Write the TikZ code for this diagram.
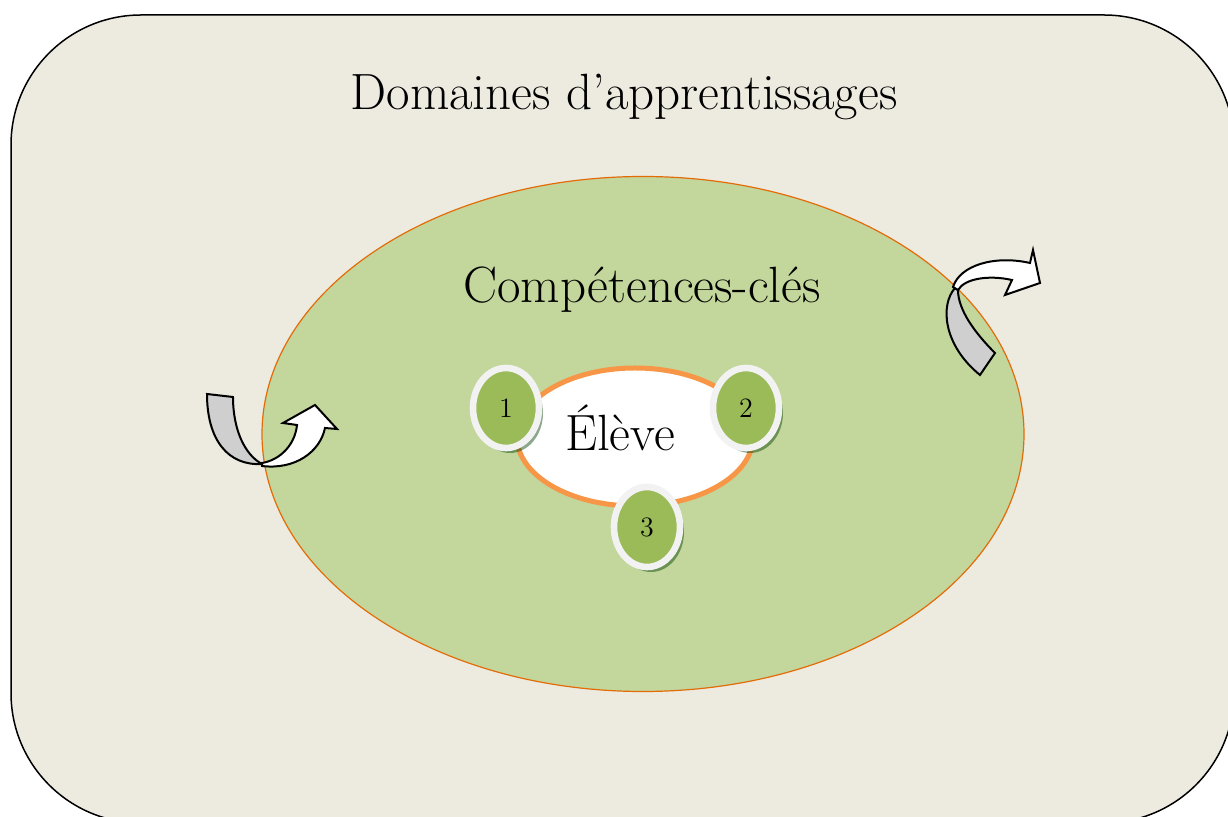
\documentclass[tikz,border=0pt]{standalone}
\usepackage{tikz}
\usetikzlibrary{shapes.geometric,shadows}
\definecolor{fondbeige}{HTML}{EDEBE0}
\definecolor{vertclair}{HTML}{C3D69B}
\definecolor{vertfonce}{HTML}{9BBB59}
\definecolor{orangefonce}{HTML}{E36C09}
\definecolor{orangeclair}{HTML}{F79646}
\definecolor{ringgris}{HTML}{F2F2F2}
\definecolor{flechegris}{HTML}{CFCFCF}

\begin{document}
\begin{tikzpicture}[x=0.5pt,y=-0.5pt,
	grandtexte/.style={font=\fontsize{25.5}{30}\selectfont},
	pastille/.style={ellipse, draw=ringgris, line width=3.3pt, fill=vertfonce,
		minimum width=33pt, minimum height=40pt, inner sep=0pt,
		drop shadow={shadow xshift=2pt, shadow yshift=-2.5pt, fill=green!25!black, opacity=.45},
		font=\fontsize{14}{16}\selectfont},
	fleche/.style={draw=black, line width=1pt, line join=miter}]
				\useasboundingbox (0,0) rectangle (1228,817);
				
				\begin{scope}
				\clip (0,0) rectangle (1228,817);
				\draw[fill=fondbeige, line width=0.75pt, rounded corners=65pt] (11,15) rectangle (1234,823);
				\end{scope}
				
				\node[grandtexte] (titre) at (624,97) {Domaines d’apprentissages};
				
				\node[ellipse, draw=orangefonce, line width=0.6pt, fill=vertclair, minimum width=381pt, minimum height=257.5pt] (competences) at (643,434) {};
				\node[grandtexte] (cles) at (642,290) {Compétences-clés};
				
				\node[ellipse, draw=orangeclair, line width=2.5pt, fill=white, minimum width=118pt, minimum height=69pt] (eleve) at (635,437) {};
				\node[grandtexte] (nom) at (620,428) {Élève};
				
				\node[pastille] (p1) at (506,408) {1};
				\node[pastille] (p2) at (746,408) {2};
				\node[pastille] (p3) at (647,527) {3};
				
				% fleche gauche
				\draw[fleche, fill=flechegris] (207,394) -- (233,397) .. controls (233,430) and (245,455) .. (262,464) .. controls (228,466) and (207,440) .. cycle;
				\draw[fleche, fill=white] (262,463) .. controls (280,460) and (295,445) .. (297,425) -- (283,423) -- (315,405) -- (337,429) -- (325,428) .. controls (320,452) and (295,470) .. (262,466) -- cycle;
				
				% fleche droite
				\draw[fleche, fill=flechegris] (955,288) .. controls (940,305) and (943,345) .. (980,375) -- (995,353) .. controls (975,333) and (958,310) .. (958,290) -- cycle;
				\draw[fleche, fill=white] (953,287) .. controls (960,265) and (995,255) .. (1030,263) -- (1033,250) -- (1040,283) -- (1005,295) -- (1012,280) .. controls (990,275) and (965,278) .. (958,290) -- cycle;
			\end{tikzpicture}
\end{document}
